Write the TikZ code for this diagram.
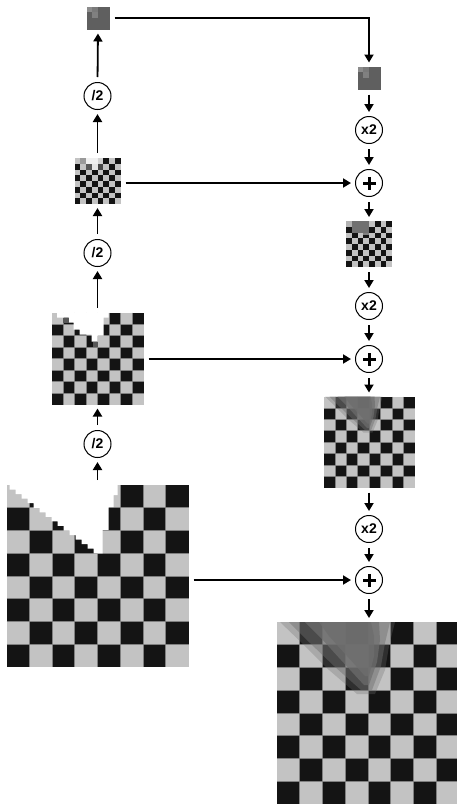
\documentclass[tikz,border=0pt]{standalone}
\usepackage{fontspec}
\setmainfont{Liberation Sans}
\usetikzlibrary{arrows.meta}
\definecolor{cdark}{HTML}{141414}
\definecolor{clight}{HTML}{C3C3C3}
\definecolor{cgrid}{HTML}{808080}
\definecolor{cmid}{HTML}{5F5F5F}
\definecolor{blobc}{HTML}{6E6E6E}

\newcommand\drawboard[3]{%
\begin{scope}[shift={(#1.north west)}]
 \fill[clight] (0,0) rectangle ({8*#2},{8*#2});
 \foreach \r in {0,...,7}{\foreach \c in {0,...,7}{%
   \pgfmathtruncatemacro\cpar{mod(\r+\c,2)}%
   \ifnum\cpar=1 \fill[cdark] ({\c*#2},{\r*#2}) rectangle ++(#2,#2);\fi}}
 \ifdim#3pt>0pt
 \foreach \k in {1,...,7}{%
   \draw[cgrid,line width=#3pt] ({\k*#2},0) -- ({\k*#2},{8*#2});
   \draw[cgrid,line width=#3pt] (0,{\k*#2}) -- ({8*#2},{\k*#2});}
 \fi
\end{scope}}

\newcommand\drawblob[2]{%
\begin{scope}[shift={(#1.north west)}, scale=#2]
 \fill[blobc, opacity=0.3] (3,0) -- (28,24) -- (52,48) -- (80,72) -- (98,72) -- (108,48) -- (112,24) -- (118,0) -- cycle;
 \fill[blobc, opacity=0.45] (12,0) -- (33,21) -- (57,44) -- (84,68) -- (95,68) -- (104,44) -- (108,21) -- (113,0) -- cycle;
 \fill[blobc, opacity=0.7] (28,0) -- (44,16) -- (64,38) -- (87,63) -- (92,63) -- (100,40) -- (103,18) -- (102,0) -- cycle;
 \fill[blobc, opacity=0.8] (42,0) -- (52,14) -- (70,34) -- (88,54) -- (92,54) -- (97,34) -- (97,14) -- (94,0) -- cycle;
\end{scope}}

\newcommand\drawsmall[1]{%
\begin{scope}[shift={(#1.north west)}]
 \fill[cmid] (0,0) rectangle (23,23);
 \fill[black!45] (0,0) rectangle (5.75,5.75);
 \fill[black!52] (5.75,0) rectangle (11.5,5.75);
 \fill[black!50] (5.75,5.75) rectangle (11.5,11.5);
\end{scope}}

\begin{document}
\begin{tikzpicture}[x=1pt,y=-1pt,
  imgbox/.style={rectangle, inner sep=0pt, outer sep=0pt, minimum size=#1},
  opnode/.style={circle, draw, line width=1pt, minimum size=27pt, inner sep=0pt,
    font=\fontsize{14}{14}\selectfont\bfseries},
  plusnode/.style={opnode, path picture={
    \fill (path picture bounding box.center) ++(-6.5,-1.5) rectangle ++(13,3);
    \fill (path picture bounding box.center) ++(-1.5,-6.5) rectangle ++(3,13);}},
  conn/.style={line width=1.8pt, -{Triangle[length=8pt,width=9pt]}, shorten <=5pt, shorten >=4pt}]
\useasboundingbox (0,0) rectangle (457,804);

% left column
\node[imgbox=23pt] (L0) at (98,18) {};
\node[opnode] (c1) at (97.5,96) {/2};
\node[imgbox=46pt] (L1) at (97.5,181) {};
\node[opnode] (c2) at (97.5,253) {/2};
\node[imgbox=92pt] (L2) at (97.5,358.5) {};
\node[opnode] (c3) at (97.5,444) {/2};
\node[imgbox=182pt] (L3) at (97.5,576) {};

% right column
\node[imgbox=23pt] (R0) at (369,78) {};
\node[opnode] (m1) at (369,130) {x2};
\node[plusnode] (p1) at (369,183) {};
\node[imgbox=46pt] (R1) at (369,244) {};
\node[opnode] (m2) at (369,306) {x2};
\node[plusnode] (p2) at (369,359) {};
\node[imgbox=91pt] (R2) at (369,442) {};
\node[opnode] (m3) at (369,529) {x2};
\node[plusnode] (p3) at (369,580) {};
\node[imgbox=182pt] (R3) at (368,713) {};

% ---- images ----
\drawsmall{L0}
\drawsmall{R0}

% L1
\drawboard{L1}{5.75}{0}
\begin{scope}[shift={(L1.north west)}]
 \fill[black!40] (5.75,0) rectangle (11.5,5.75);
 \fill[black!6] (11.5,0) rectangle (23,5.75);
 \fill[black!18] (23,0) rectangle (28.75,5.75);
 \fill[black!66] (11.5,5.75) rectangle (17.25,11.5);
 \fill[black!10] (17.25,5.75) rectangle (23,11.5);
 \fill[black!72] (23,5.75) rectangle (28.75,11.5);
\end{scope}

% L2
\drawboard{L2}{11.5}{0.5}
\begin{scope}[shift={(L2.north west)}]
 \fill[white] (5.7,0) -- (5.7,5) -- (17.3,5) -- (17.3,10) -- (22,10) -- (22,17) -- (28,17) -- (28,22)
   -- (40,22) -- (40,29) -- (46,29) -- (46,23) -- (52,23) -- (52,5) -- (57,5) -- (57,0) -- cycle;
 \fill[black!66] (11.7,5) rectangle (17.3,10);
 \fill[black!66] (41,29) rectangle (46,34);
\end{scope}

% L3
\drawboard{L3}{22.75}{0.7}
\begin{scope}[shift={(L3.north west)}]
 \fill[white] (3,0) foreach \k in {0,...,14}{ -- ({3+6*\k},{4.55*(\k+1)}) -- ({9+6*\k},{4.55*(\k+1)}) }
   -- (96,68.25) -- (96,45) -- (102,45) -- (102,22) -- (107,22) -- (107,10) -- (111,10) -- (111,0) -- cycle;
\end{scope}

% R1
\drawboard{R1}{5.75}{0}
\begin{scope}[shift={(R1.north west)}]
 \fill[black!30] (0,0) rectangle (5.75,5.75);
 \fill[black!56] (5.75,0) rectangle (23,11.5);
 \fill[black!50] (17.25,11.5) rectangle (23,14);
\end{scope}

% R2, R3
\drawboard{R2}{11.375}{0.5}
\drawblob{R2}{0.5}
\drawboard{R3}{22.75}{0.7}
\drawblob{R3}{1}

% ---- connectors ----
\draw[conn] (L3.north) -- (c3.south);
\draw[conn] (c3.north) -- (L2.south);
\draw[conn] (L2.north) -- (c2.south);
\draw[conn] (c2.north) -- (L1.south);
\draw[conn] (L1.north) -- (c1.south);
\draw[conn] (c1.north) -- (L0.south);

\draw[conn] (L0.east) -| (R0.north);
\draw[conn] (R0.south) -- (m1.north);
\draw[conn] (m1.south) -- (p1.north);
\draw[conn] (p1.south) -- (R1.north);
\draw[conn] (R1.south) -- (m2.north);
\draw[conn] (m2.south) -- (p2.north);
\draw[conn] (p2.south) -- (R2.north);
\draw[conn] (R2.south) -- (m3.north);
\draw[conn] (m3.south) -- (p3.north);
\draw[conn] (p3.south) -- (p3.south |- R3.north);

\draw[conn] (L1.east |- p1.west) -- (p1.west);
\draw[conn] (L2.east |- p2.west) -- (p2.west);
\draw[conn] (L3.east |- p3.west) -- (p3.west);
\end{tikzpicture}
\end{document}
